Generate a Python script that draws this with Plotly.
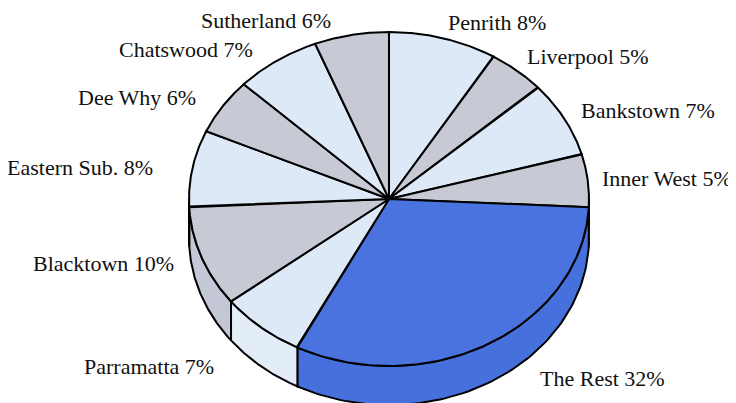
import numpy as np
import plotly.graph_objects as go

# ---- data (clockwise from 12 o'clock) ----
regions = ["Penrith", "Liverpool", "Bankstown", "Inner West", "The Rest",
           "Parramatta", "Blacktown", "Eastern Sub.", "Dee Why", "Chatswood", "Sutherland"]
label_pct = [8, 5, 7, 5, 32, 7, 10, 8, 6, 7, 6]
# slice sizes as drawn in the picture (estimated)
shares = [8.7, 4.6, 7.3, 5.1, 31.7, 6.9, 9.7, 7.4, 5.4, 6.9, 6.0]

LIGHT = "#dde9f6"
GREY = "#c7cad5"
BLUE = "#4a73e0"
colors = [LIGHT, GREY, LIGHT, GREY, BLUE, LIGHT, GREY, LIGHT, GREY, LIGHT, GREY]
side_colors = [LIGHT, GREY, LIGHT, GREY, "#4670dc", "#e2edf8", "#c3c7d6", LIGHT, GREY, LIGHT, GREY]

# ---- layout geometry (page pixel space) ----
PAGE_OFF = 8  # default body margin of the html page
CX, CY = 389, 199
RX, RY = 200, 167
DEPTH = 39
label_xy = [(497, 22), (588, 56), (648, 110), (667, 178), (602, 378),
            (149, 366), (103, 263), (80, 167), (137, 97), (186, 49), (266, 20)]

def ex(t):
    return CX + RX * np.cos(np.radians(t))

def ey(t, dz=0):
    return CY - RY * np.sin(np.radians(t)) + dz

fig = go.Figure()

total = sum(shares)
bounds = [90.0]
for s in shares:
    bounds.append(bounds[-1] - s / total * 360.0)

# side walls (front half: angles between -180 and 0)
for i in range(len(shares)):
    start, end = bounds[i], bounds[i + 1]
    a = min(start, 0.0)
    b = max(end, -180.0)
    if a <= b:
        continue
    t = np.linspace(a, b, 80)
    xs = np.concatenate([ex(t), ex(t[::-1])])
    ys = np.concatenate([ey(t), ey(t[::-1], DEPTH)])
    xs = np.append(xs, xs[0]); ys = np.append(ys, ys[0])
    fig.add_trace(go.Scatter(x=xs, y=ys, mode="lines", fill="toself",
                             fillcolor=side_colors[i],
                             line=dict(color="black", width=2),
                             hoverinfo="skip", showlegend=False))

# top face wedges
for i in range(len(shares)):
    start, end = bounds[i], bounds[i + 1]
    t = np.linspace(start, end, 120)
    xs = np.concatenate([[CX], ex(t), [CX]])
    ys = np.concatenate([[CY], ey(t), [CY]])
    fig.add_trace(go.Scatter(x=xs, y=ys, mode="lines", fill="toself",
                             fillcolor=colors[i],
                             line=dict(color="black", width=2),
                             hoverinfo="skip", showlegend=False))

for name, p, (lx, ly) in zip(regions, label_pct, label_xy):
    fig.add_annotation(x=lx, y=ly, text=f"{name} {p}%", showarrow=False,
                       xanchor="center", yanchor="middle",
                       font=dict(family="Liberation Serif, Times New Roman, serif",
                                 size=22, color="#111111"))

fig.update_layout(
    width=736 - PAGE_OFF, height=403 - PAGE_OFF, autosize=False,
    margin=dict(l=0, r=0, t=0, b=0),
    paper_bgcolor="white", plot_bgcolor="white",
    xaxis=dict(range=[PAGE_OFF, 736], visible=False, fixedrange=True),
    yaxis=dict(range=[403, PAGE_OFF], visible=False, fixedrange=True),
)

fig.write_html("out.html")
